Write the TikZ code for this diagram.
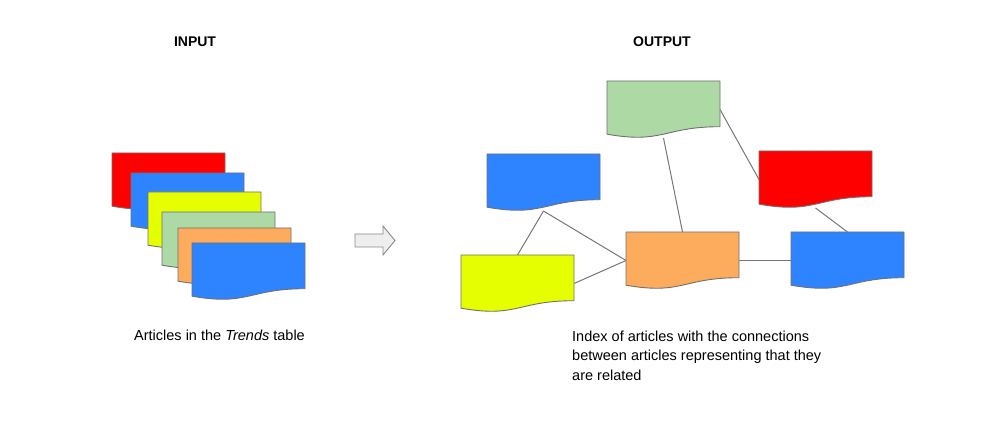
\documentclass[tikz,border=0pt]{standalone}
\usepackage{fontspec}
\setmainfont{Liberation Sans}
\definecolor{docred}{HTML}{FF0000}
\definecolor{docblue}{HTML}{2E83FF}
\definecolor{docyellow}{HTML}{E6FF00}
\definecolor{docgreen}{HTML}{ADD9A4}
\definecolor{docorange}{HTML}{FDAB5C}
\definecolor{edgegray}{HTML}{707070}
\definecolor{linkgray}{HTML}{777777}
\definecolor{arrowfill}{HTML}{EEEEEE}
\definecolor{arrowdraw}{HTML}{8A8A8A}
\tikzset{
  docnode/.style={minimum width=113pt, minimum height=57pt, inner sep=0pt, outer sep=0pt},
  docline/.style={draw=edgegray, line width=0.9pt, line join=round},
  link/.style={draw=linkgray, line width=1pt},
  blockarrow/.style={draw=arrowdraw, fill=arrowfill, line width=0.9pt, line join=miter},
  title/.style={font=\fontsize{14}{17}\selectfont\bfseries, anchor=base, inner sep=0pt},
  caption/.style={font=\fontsize{14.5}{19.7}\selectfont, inner sep=0pt},
}
\newcommand\docshape[2]{%
  \filldraw[docline, fill=#2] (#1.north west) -- (#1.north east)
    -- ([yshift=11.3pt]#1.south east)
    .. controls ([yshift=11.3pt]#1.south) and ([yshift=-6.1pt]#1.south) ..
    ([yshift=3.8pt]#1.south west) -- cycle;}
\begin{document}
\begin{tikzpicture}[x=1pt, y=-1pt]
\fill[white] (0,0) rectangle (999,446);
\useasboundingbox (0,0) rectangle (999,446);

% titles
\node[title] (tin) at (195,47) {INPUT};
\node[title] (tout) at (662,47) {OUTPUT};

% left stack
\node[docnode] (lr) at (168.5,181.5) {};
\node[docnode] (lb1) at (187.5,201.5) {};
\node[docnode] (ly) at (204.5,220.5) {};
\node[docnode] (lg) at (218.5,240.5) {};
\node[docnode] (lo) at (234.5,256.5) {};
\node[docnode] (lb2) at (248.5,271.5) {};
\docshape{lr}{docred}
\docshape{lb1}{docblue}
\docshape{ly}{docyellow}
\docshape{lg}{docgreen}
\docshape{lo}{docorange}
\docshape{lb2}{docblue}

% block arrow
\draw[blockarrow] (355,234) -- (383,234) -- (383,226) -- (395,240.5)
  -- (383,255) -- (383,247) -- (355,247) -- cycle;

% right graph
\node[docnode] (g) at (663.5,109.5) {};
\node[docnode] (bl) at (543.5,182.5) {};
\node[docnode] (r) at (815.5,179.5) {};
\node[docnode] (y) at (517.5,283.5) {};
\node[docnode] (o) at (682.5,260.5) {};
\node[docnode] (br) at (847.5,260.5) {};

\draw[link] (g.south) -- (o.north);
\draw[link] (g.east) -- (r.west);
\draw[link] (r.south) -- (br.north);
\draw[link] (bl.south) -- (y.north);
\draw[link] (bl.south) -- (o.west);
\draw[link] (y.east) -- (o.west);
\draw[link] (o.east) -- (br.west);

\docshape{g}{docgreen}
\docshape{bl}{docblue}
\docshape{r}{docred}
\docshape{y}{docyellow}
\docshape{o}{docorange}
\docshape{br}{docblue}

% captions
\node[caption, anchor=base] (capl) at (219.5,341) {Articles in the \textit{Trends} table};
\node[caption, anchor=base west, align=left] (capr) at (572,380.4)
  {Index of articles with the connections\\between articles representing that they\\are related};
\end{tikzpicture}
\end{document}
